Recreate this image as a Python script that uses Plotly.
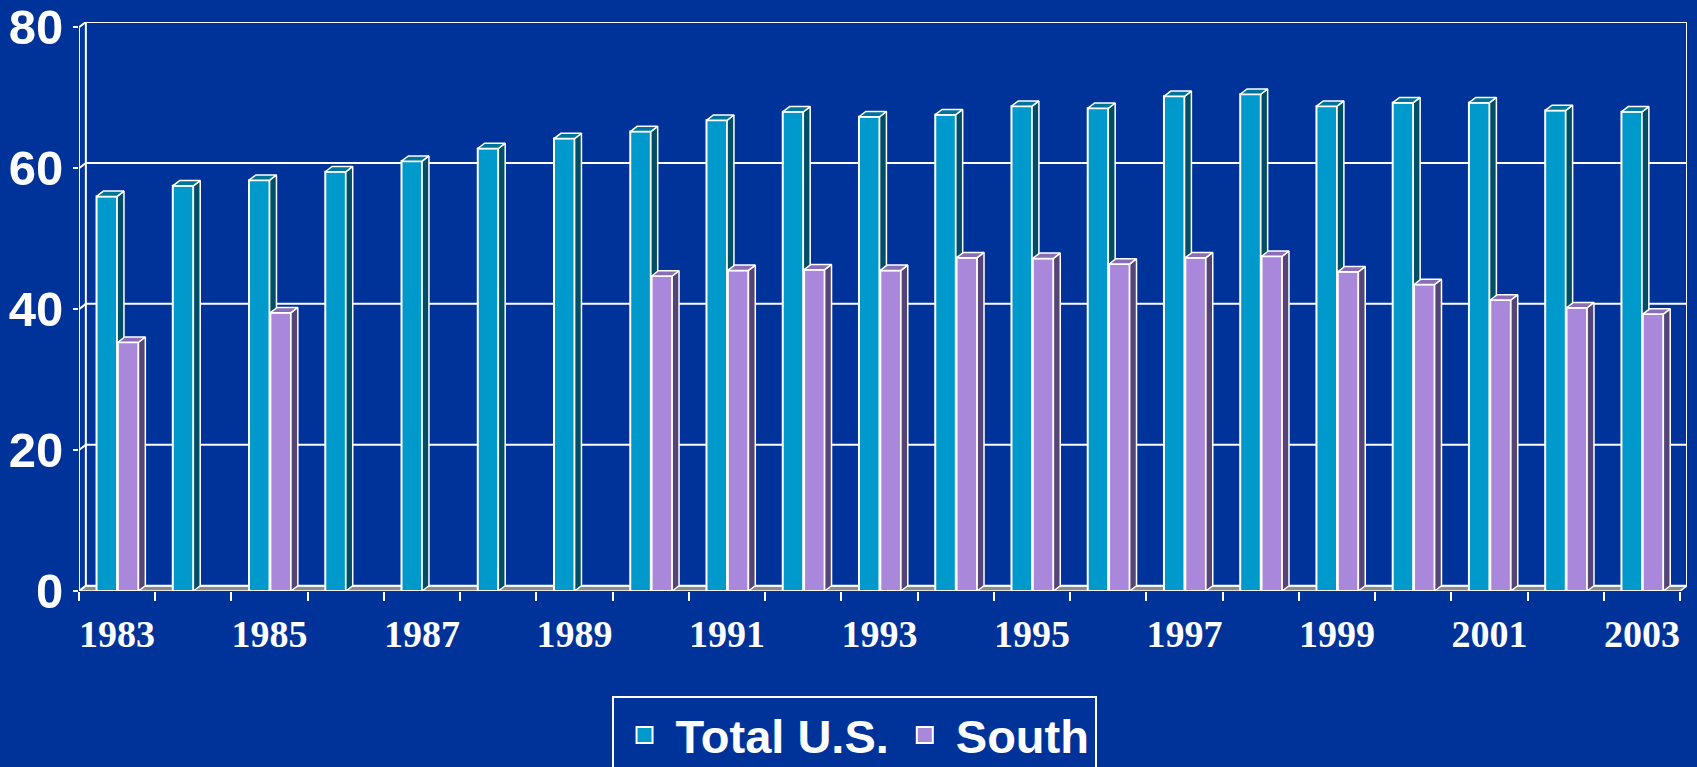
import plotly.graph_objects as go

# ─── data ────────────────────────────────────────────────────────────────────
years = list(range(1983, 2004))
total_us = [56.0, 57.5, 58.3, 59.5, 61.0, 62.8, 64.2, 65.2, 66.8, 68.0, 67.3,
            67.6, 68.8, 68.5, 70.2, 70.5, 68.8, 69.3, 69.3, 68.2, 68.0]
south = [35.3, None, 39.5, None, None, None, None, 44.7, 45.5, 45.6, 45.5,
         47.3, 47.2, 46.4, 47.3, 47.5, 45.3, 43.5, 41.3, 40.2, 39.3]
label_years = [y for y in years if y % 2 == 1]
y_ticks = [0, 20, 40, 60, 80]

# ─── style ───────────────────────────────────────────────────────────────────
_BG = "#003399"
_TOTAL = "#0099CC"
_TOTAL_SIDE = "#004D66"
_TOTAL_TOP = "#007399"
_SOUTH = "#A987DB"
_SOUTH_SIDE = "#554477"
_SOUTH_TOP = "#8A6DB5"
_FLOOR = "#8C8C8C"

BAR_W = 0.27     # front face width (category units)
DX = 0.09        # depth shift to the right (category units)
DY = 0.75        # depth shift upwards (value units)
X0 = years[0] - 0.5
X1 = years[-1] + 0.5


def _faces(xs, vals, offset):
    """Side and top faces of the pseudo-3D bars, built from the data."""
    sx, sy, tx, ty = [], [], [], []
    for x, v in zip(xs, vals):
        if v is None:
            continue
        xl = x + offset
        xr = xl + BAR_W
        sx += [xr, xr + DX, xr + DX, xr, xr, None]
        sy += [0, DY, v + DY, v, 0, None]
        tx += [xl, xr, xr + DX, xl + DX, xl, None]
        ty += [v, v, v + DY, v + DY, v, None]
    return sx, sy, tx, ty


def _face_trace(x, y, color, z):
    return go.Scatter(
        x=x, y=y, mode="lines", fill="toself", fillcolor=color,
        line=dict(color="white", width=1.5), hoverinfo="skip",
        showlegend=False, zorder=z,
    )


fig = go.Figure()

# floor
fig.add_trace(
    go.Scatter(
        x=[X0, X1, X1 + DX, X0 + DX, X0], y=[0, 0, DY, DY, 0],
        mode="lines", fill="toself", fillcolor=_FLOOR,
        line=dict(color="white", width=1.5), hoverinfo="skip",
        showlegend=False, zorder=0,
    )
)

# back wall gridlines + wall edges
gx, gy = [], []
for v in y_ticks:
    gx += [X0, X0 + DX, X1 + DX, None]
    gy += [v, v + DY, v + DY, None]
gx += [X0, X0, None, X0 + DX, X0 + DX, None, X1 + DX, X1 + DX, None]
gy += [0, y_ticks[-1], None, DY, y_ticks[-1] + DY, None, DY, y_ticks[-1] + DY, None]
fig.add_trace(
    go.Scatter(x=gx, y=gy, mode="lines", line=dict(color="white", width=2),
               hoverinfo="skip", showlegend=False, zorder=0)
)

# Total U.S. bars
fig.add_trace(
    go.Bar(
        x=years, y=total_us, width=BAR_W, offset=-BAR_W, name="Total U.S.",
        marker=dict(color=_TOTAL, line=dict(color="white", width=2)),
        showlegend=False, zorder=1,
    )
)
sx, sy, tx, ty = _faces(years, total_us, -BAR_W)
fig.add_trace(_face_trace(sx, sy, _TOTAL_SIDE, 2))
fig.add_trace(_face_trace(tx, ty, _TOTAL_TOP, 2))

# South bars
fig.add_trace(
    go.Bar(
        x=years, y=south, width=BAR_W, offset=0.01, name="South",
        marker=dict(color=_SOUTH, line=dict(color="white", width=2)),
        showlegend=False, zorder=3,
    )
)
sx, sy, tx, ty = _faces(years, south, 0.01)
fig.add_trace(_face_trace(sx, sy, _SOUTH_SIDE, 4))
fig.add_trace(_face_trace(tx, ty, _SOUTH_TOP, 4))

# legend entries
for name, color in [("Total U.S.", _TOTAL), ("South", _SOUTH)]:
    fig.add_trace(
        go.Scatter(
            x=[None], y=[None], mode="markers", name=name,
            marker=dict(symbol="square", size=30, color=color,
                        line=dict(color="white", width=2)),
        )
    )

# boundary ticks on an overlaid axis
fig.add_trace(go.Scatter(x=[None], y=[None], xaxis="x2", showlegend=False,
                         hoverinfo="skip"))

x_range = [X0, X1 + DX]
fig.update_layout(
    width=1697,
    height=767,
    paper_bgcolor=_BG,
    plot_bgcolor=_BG,
    barmode="overlay",
    margin=dict(l=79, r=10, t=22, b=176),
    xaxis=dict(
        range=x_range,
        tickvals=label_years,
        ticktext=[str(y) for y in label_years],
        ticks="",
        automargin=False,
        showgrid=False, zeroline=False, showline=False,
        tickfont=dict(family="Liberation Serif", size=38, color="white",
                      weight="bold"),
        ticklabelstandoff=17,
    ),
    xaxis2=dict(
        range=x_range,
        overlaying="x", anchor="y", side="bottom",
        tickvals=[y - 0.5 for y in years] + [X1],
        ticks="outside", ticklen=9, tickwidth=2, tickcolor="white",
        automargin=False,
        showticklabels=False, showgrid=False, zeroline=False, showline=False,
    ),
    yaxis=dict(
        range=[0, y_ticks[-1] + DY],
        tickvals=y_ticks,
        ticks="outside", ticklen=5, tickwidth=2, tickcolor="white",
        automargin=False,
        showgrid=False, zeroline=False, showline=False,
        tickfont=dict(family="Liberation Sans", size=49, color="white",
                      weight="bold"),
    ),
    legend=dict(
        orientation="h",
        x=0.482, xanchor="center", xref="paper",
        y=0.0926, yanchor="top", yref="container",
        itemwidth=52,
        bgcolor="rgba(0,0,0,0)",
        bordercolor="white", borderwidth=2,
        font=dict(family="Liberation Sans", size=47, color="white",
                  weight="bold"),
    ),
)

fig.write_html(
    "out.html",
    config={"displayModeBar": False},
    post_script="document.body.style.margin='0';document.body.style.background='%s';" % _BG,
)
